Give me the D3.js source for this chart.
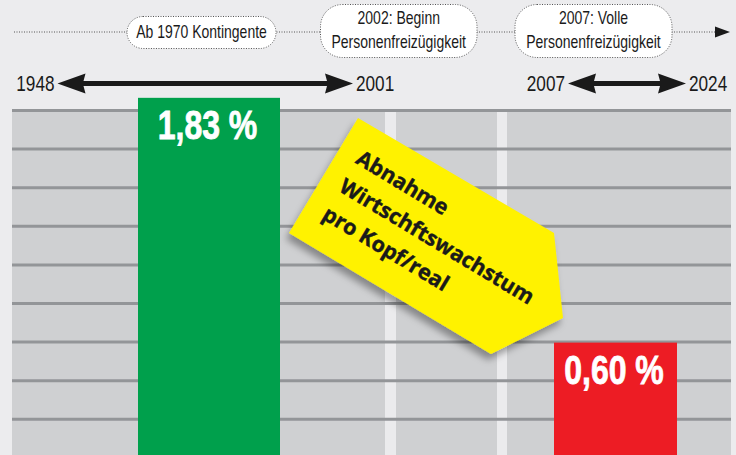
<!DOCTYPE html>
<html>
<head>
<meta charset="utf-8">
<script src="https://cdn.jsdelivr.net/npm/d3@7"></script>
<style>
  html, body { margin: 0; padding: 0; background: #ececee; }
  svg { display: block; }
</style>
</head>
<body>
<svg id="chart" width="736" height="455"></svg>
<script>
// ---------- data ----------
const categories = ["1948–2001", "2007–2024"];
const growthValues = [1.83, 0.60];
const valueLabels = ["1,83 %", "0,60 %"];
const periodStart = ["1948", "2007"];
const periodEnd = ["2001", "2024"];
const milestoneLines = [
  ["Ab 1970 Kontingente"],
  ["2002: Beginn", "Personenfreizügigkeit"],
  ["2007: Volle", "Personenfreizügigkeit"]
];
const calloutLines = ["Abnahme", "Wirtschftswachstum", "pro Kopf/real"];

// ---------- layout ----------
const W = 736, H = 455;
const svg = d3.select("#chart");
const sans = "'Liberation Sans', Arial, sans-serif";
const SX = 0.8; // horizontal condensing

// condensed text helper
function ntext(parent, x, y, str, size, opts = {}) {
  const t = parent.append("text")
    .attr("transform", `translate(${x},${y}) scale(${SX},1)`)
    .attr("x", 0).attr("y", 0)
    .attr("text-anchor", opts.anchor || "start")
    .attr("font-family", sans)
    .attr("font-weight", opts.weight || "normal")
    .attr("font-size", size)
    .attr("fill", opts.fill || "#1a1a1a")
    .text(str);
  if (opts.stroke) t.attr("stroke", opts.fill).attr("stroke-width", opts.stroke);
  return t;
}

const panel = { x0: 12, x1: 731, y0: 109 };
const y = d3.scaleLinear().domain([0, 2]).range([462, 64]);
const xBar = d3.scaleOrdinal().domain(categories).range([138, 554]);
const wBar = d3.scaleOrdinal().domain(categories).range([142, 123]);
const colorBar = d3.scaleOrdinal().domain(categories).range(["#00a04c", "#ed1c24"]);

const defs = svg.append("defs");
const f = defs.append("filter").attr("id", "shadow")
  .attr("x", "-20%").attr("y", "-20%").attr("width", "140%").attr("height", "150%");
f.append("feDropShadow").attr("dx", -3).attr("dy", 6).attr("stdDeviation", 3.5)
  .attr("flood-color", "#000").attr("flood-opacity", 0.35);

// panel background
svg.append("rect").attr("x", panel.x0).attr("y", panel.y0)
  .attr("width", panel.x1 - panel.x0).attr("height", H - panel.y0)
  .attr("fill", "#cfd0d2");

// vertical light stripes (separating periods)
const stripes = [[385, 11], [497, 10]];
svg.selectAll("rect.stripe").data(stripes).join("rect")
  .attr("class", "stripe")
  .attr("x", d => d[0]).attr("y", panel.y0 + 3)
  .attr("width", d => d[1]).attr("height", H - panel.y0)
  .attr("fill", "#ebebed");

// horizontal grid lines (decorative pattern)
const gridY = d3.range(9).map(i => 110.5 + i * 38.6);
svg.selectAll("line.grid").data(gridY).join("line")
  .attr("class", "grid")
  .attr("x1", panel.x0).attr("x2", panel.x1)
  .attr("y1", d => d).attr("y2", d => d)
  .attr("stroke", "#939598").attr("stroke-width", 3);

// bars
const bars = categories.map((c, i) => ({ c, v: growthValues[i], label: valueLabels[i] }));
svg.selectAll("rect.bar").data(bars).join("rect")
  .attr("class", "bar")
  .attr("x", d => xBar(d.c)).attr("width", d => wBar(d.c))
  .attr("y", d => y(d.v)).attr("height", d => H - y(d.v))
  .attr("fill", d => colorBar(d.c));

bars.forEach(d => {
  ntext(svg, xBar(d.c) + wBar(d.c) / 2 - 1.5, y(d.v) + 41, d.label, 40,
    { anchor: "middle", weight: "bold", fill: "#fff", stroke: 0.8 });
});

// ---------- callout (yellow arrow tag) ----------
const tag = [[358, 118], [554, 233], [563, 318], [491, 354], [289, 233]];
svg.append("polygon")
  .attr("points", tag.map(p => p.join(",")).join(" "))
  .attr("fill", "#fff200")
  .attr("filter", "url(#shadow)");
const tg = svg.append("g").attr("transform", "translate(358,118) rotate(31)");
tg.selectAll("text").data(calloutLines).join("text")
  .attr("x", 20).attr("y", (d, i) => 40 + i * 32.5)
  .attr("font-family", "'Open Sans', 'DejaVu Sans', sans-serif")
  .attr("font-weight", "bold").attr("font-size", 21.5)
  .attr("fill", "#1a1a1a").attr("stroke", "#1a1a1a").attr("stroke-width", 0.4)
  .text(d => d);

// ---------- top timeline ----------
const tlY = 32;
svg.append("line").attr("x1", 14).attr("x2", 716).attr("y1", tlY).attr("y2", tlY)
  .attr("stroke", "#555").attr("stroke-width", 1).attr("stroke-dasharray", "1,1.5");
svg.append("path").attr("d", `M715,${tlY - 5.5}L730,${tlY}L715,${tlY + 5.5}Z`).attr("fill", "#1a1a1a");

const pills = [
  { x0: 127, x1: 276, y0: 16.5, y1: 48.5, base: [37.5] },
  { x0: 320.5, x1: 477, y0: 4.5, y1: 57.5, base: [24, 47.5] },
  { x0: 515, x1: 672, y0: 4.5, y1: 57.5, base: [24, 47.5] }
];
pills.forEach((p, i) => {
  const h = p.y1 - p.y0;
  svg.append("rect").attr("x", p.x0).attr("y", p.y0)
    .attr("width", p.x1 - p.x0).attr("height", h)
    .attr("rx", Math.min(h / 2, 22)).attr("ry", Math.min(h / 2, 22))
    .attr("fill", "#fff").attr("stroke", "#555").attr("stroke-width", 1)
    .attr("stroke-dasharray", "1,1.5");
  milestoneLines[i].forEach((line, j) => {
    ntext(svg, (p.x0 + p.x1) / 2, p.base[j], line, 17.5, { anchor: "middle" });
  });
});

// ---------- period arrows ----------
const arrowL = d3.scaleOrdinal().domain(periodStart).range([57.5, 568]);
const arrowR = d3.scaleOrdinal().domain(periodEnd).range([353, 686]);
const aY = 83.5, headL = 28, headH = 10, shaft = 2.6;
periodStart.forEach((s, i) => {
  const e = periodEnd[i];
  const l = arrowL(s), r = arrowR(e);
  const d = `M${l},${aY}L${l + headL},${aY - headH}L${l + headL - 2},${aY - shaft}` +
    `L${r - headL + 2},${aY - shaft}L${r - headL},${aY - headH}L${r},${aY}` +
    `L${r - headL},${aY + headH}L${r - headL + 2},${aY + shaft}L${l + headL - 2},${aY + shaft}` +
    `L${l + headL},${aY + headH}Z`;
  svg.append("path").attr("d", d).attr("fill", "#1a1a1a");
  ntext(svg, l - 3, aY + 7.5, s, 21.5, { anchor: "end" });
  ntext(svg, r + 3, aY + 7.5, e, 21.5, { anchor: "start" });
});
</script>
</body>
</html>
